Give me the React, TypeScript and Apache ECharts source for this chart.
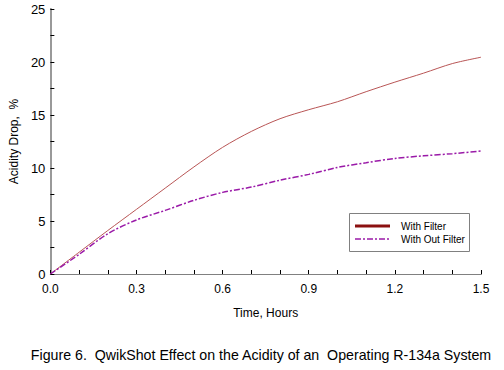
import React, { useEffect, useRef } from "react";
import * as echarts from "echarts";

const hours = [0, 0.1, 0.2, 0.3, 0.4, 0.5, 0.6, 0.7, 0.8, 0.9, 1.0, 1.1, 1.2, 1.3, 1.4, 1.5];
const withFilter = [0, 2.05, 4.1, 6.1, 8.1, 10.1, 11.95, 13.45, 14.65, 15.5, 16.25, 17.2, 18.1, 18.95, 19.85, 20.45];
const withOutFilter = [0, 1.85, 3.8, 5.1, 6.0, 6.95, 7.7, 8.2, 8.85, 9.4, 10.05, 10.5, 10.9, 11.15, 11.35, 11.6];
const seriesNames = ["With Filter", "With Out Filter"];
const caption = "Figure 6.  QwikShot Effect on the Acidity of an  Operating R-134a System";

const FONT = "'Liberation Sans', Arial, sans-serif";
const RED = "#8b1010";
const RED_LINE = "#b85555";
const PURPLE = "#9a1aa8";
const PURPLE_DASH = [6, 2, 2, 2];

export default function App() {
  const ref = useRef<HTMLDivElement>(null);
  useEffect(() => {
    if (!ref.current) return;
    const chart = echarts.init(ref.current, undefined, { renderer: "svg" });
    chart.setOption({
      animation: false,
      backgroundColor: "#ffffff",
      textStyle: { fontFamily: FONT },
      grid: { left: 43, right: 23, top: 9, bottom: 96 },
      xAxis: [
        {
          type: "value",
          min: 0,
          max: 1.5,
          interval: 0.3,
          name: "Time, Hours",
          nameLocation: "middle",
          nameGap: 33,
          nameTextStyle: { fontFamily: FONT, fontSize: 12, color: "#000" },
          axisLine: { show: true, lineStyle: { color: "#000", width: 1 } },
          axisTick: { show: true, inside: true, length: 4, lineStyle: { color: "#000" } },
          minorTick: { show: true, splitNumber: 3, length: 4, lineStyle: { color: "#000" } },
          splitLine: { show: false },
          axisLabel: {
            fontFamily: FONT,
            fontSize: 12,
            color: "#000",
            margin: 9,
            formatter: (v: number) => v.toFixed(1),
          },
        },
        {
          type: "value",
          position: "top",
          min: 0,
          max: 1.5,
          axisLine: { show: true, lineStyle: { color: "#808080", width: 1 } },
          axisTick: { show: false },
          axisLabel: { show: false },
          splitLine: { show: false },
        },
      ],
      yAxis: [
        {
          type: "value",
          min: 0,
          max: 25,
          interval: 5,
          name: "Acidity Drop,  %",
          nameLocation: "middle",
          nameGap: 26,
          nameTextStyle: { fontFamily: FONT, fontSize: 12, color: "#000" },
          axisLine: { show: true, lineStyle: { color: "#000", width: 1 } },
          axisTick: { show: true, inside: true, length: 4, lineStyle: { color: "#000" } },
          minorTick: { show: true, splitNumber: 2, length: 4, lineStyle: { color: "#000" } },
          splitLine: { show: false },
          axisLabel: { fontFamily: FONT, fontSize: 13, color: "#000", margin: 5 },
        },
        {
          type: "value",
          position: "right",
          min: 0,
          max: 25,
          axisLine: { show: true, lineStyle: { color: "#999999", width: 2 } },
          axisTick: { show: false },
          axisLabel: { show: false },
          splitLine: { show: false },
        },
      ],
      series: [
        {
          name: seriesNames[0],
          type: "line",
          smooth: 0.3,
          symbol: "none",
          color: RED,
          lineStyle: { color: RED_LINE, width: 1 },
          data: hours.map((h, i) => [h, withFilter[i]]),
        },
        {
          name: seriesNames[1],
          type: "line",
          smooth: 0.3,
          symbol: "none",
          color: PURPLE,
          lineStyle: { color: PURPLE, width: 1.5, type: PURPLE_DASH },
          data: hours.map((h, i) => [h, withOutFilter[i]]),
        },
      ],
      graphic: [
        {
          type: "rect",
          shape: { x: 349.5, y: 213.5, width: 120, height: 38 },
          style: { fill: "#ffffff", stroke: "#808080", lineWidth: 1 },
        },
        {
          type: "line",
          shape: { x1: 355, y1: 226, x2: 390, y2: 226 },
          style: { stroke: RED, lineWidth: 3 },
        },
        {
          type: "text",
          x: 401,
          y: 226,
          style: { text: seriesNames[0], fontFamily: FONT, fontSize: 10, fill: "#000", verticalAlign: "middle" },
        },
        {
          type: "line",
          shape: { x1: 355, y1: 239, x2: 390, y2: 239 },
          style: { stroke: PURPLE, lineWidth: 1.5, lineDash: PURPLE_DASH },
        },
        {
          type: "text",
          x: 401,
          y: 239,
          style: { text: seriesNames[1], fontFamily: FONT, fontSize: 10, fill: "#000", verticalAlign: "middle" },
        },
        {
          type: "text",
          x: 261,
          y: 355,
          style: {
            text: caption,
            fontFamily: FONT,
            fontSize: 14.2,
            fill: "#000",
            align: "center",
            verticalAlign: "middle",
          },
        },
      ],
    });
    return () => chart.dispose();
  }, []);
  return <div ref={ref} style={{ width: 504, height: 370, position: "absolute", left: 0, top: 0 }} />;
}
